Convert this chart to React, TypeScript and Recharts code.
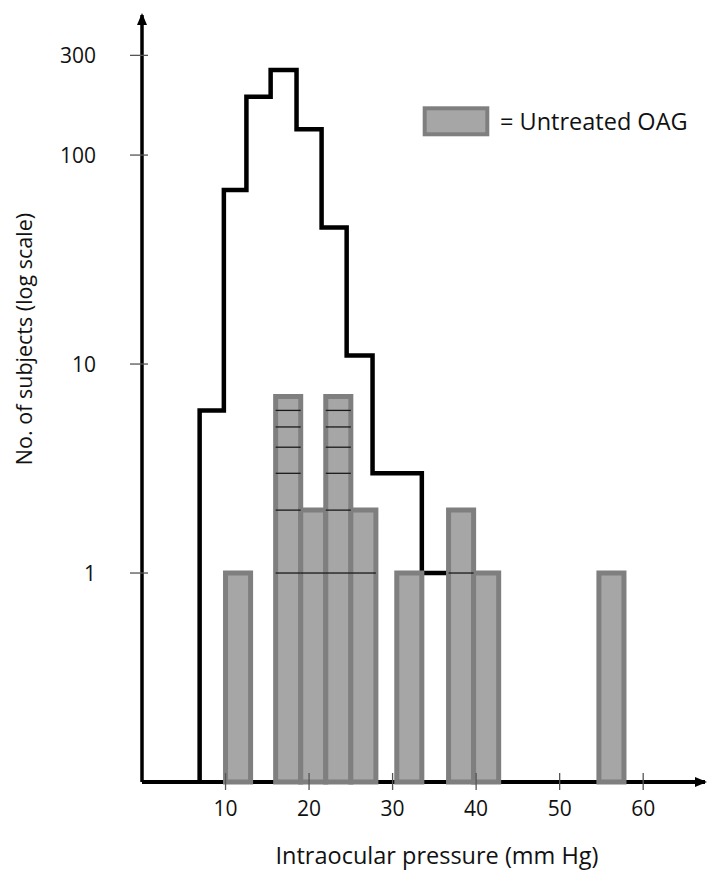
import { ComposedChart, Line, XAxis, YAxis, ReferenceArea, ReferenceLine, Legend, Label } from 'recharts'

// whole population, step histogram (left edge of each step, count)
const popEdges = [6.9, 6.9, 9.8, 12.5, 15.4, 18.5, 21.5, 24.5, 27.6, 33.5, 38]
const popCounts = [0.1, 6, 68, 190, 255, 133, 45, 11, 3, 1, 0.1]

// untreated OAG bars
const oagStart = [10, 16, 19, 22, 25, 30.5, 36.7, 39.7, 54.7]
const oagEnd = [13, 19, 22, 25, 28, 33.5, 39.7, 42.7, 57.7]
const oagCounts = [1, 7, 2, 7, 2, 1, 2, 1, 1]

const xTicks = [10, 20, 30, 40, 50, 60]
const yTicks = [1, 10, 100, 300]

const stepData = popEdges.map((x, i) => ({ x, n: popCounts[i] }))

const bars = oagStart.map((s, i) => ({ x1: s, x2: oagEnd[i], n: oagCounts[i] }))

// one thin line for every whole count below the top of a bar
const stripes = bars.flatMap((b, i) =>
  Array.from({ length: b.n - 1 }, (_, k) => ({ id: `${i}-${k}`, x1: b.x1, x2: b.x2, y: k + 1 }))
)

const FONT = '"Open Sans", "Noto Sans", sans-serif'

const XTick = (props: any) => {
  const { x, y, payload } = props
  return (
    <g>
      <line x1={x} x2={x} y1={y - 9} y2={y + 8} stroke="#555" strokeWidth={1.3} />
      <text x={x} y={y + 34} textAnchor="middle" fontSize={21} fill="#111">
        {payload.value}
      </text>
    </g>
  )
}

const YTick = (props: any) => {
  const { x, y, payload } = props
  return (
    <g>
      <line x1={x - 12} x2={x + 6} y1={y} y2={y} stroke="#555" strokeWidth={1.3} />
      <text x={96} y={y + 7.5} textAnchor="end" fontSize={21} fill="#111">
        {payload.value}
      </text>
    </g>
  )
}

const LegendBox = () => (
  <svg width={285} height={40} style={{ display: 'block' }}>
    <rect x={2.7} y={2.3} width={62.6} height={26} fill="#a6a6a6" stroke="#7f7f7f" strokeWidth={4} />
    <text x={78} y={23.8} fontSize={23.5} fill="#111" fontFamily={FONT}>
      = Untreated OAG
    </text>
  </svg>
)

export default function App() {
  return (
    <div style={{ position: 'absolute', left: 0, top: 0, fontFamily: FONT, background: '#fff' }}>
      <ComposedChart width={707} height={871} data={stepData} margin={{ top: 15, right: 2, bottom: 0, left: 0 }}>
        <defs>
          <marker id="arrow" viewBox="0 0 12 10" refX={10} refY={5} markerWidth={12} markerHeight={10}
            markerUnits="userSpaceOnUse" orient="auto-start-reverse">
            <path d="M0,0 L12,5 L0,10 z" fill="#000" />
          </marker>
        </defs>
        <XAxis
          dataKey="x"
          type="number"
          domain={[0, 67.4]}
          allowDataOverflow
          ticks={xTicks}
          height={89}
          axisLine={{ stroke: '#000', strokeWidth: 4, markerEnd: 'url(#arrow)' }}
          tickLine={false}
          tickSize={0}
          tickMargin={0}
          tick={<XTick />}
        >
          <Label
            content={() => (
              <text x={437} y={864} textAnchor="middle" fontSize={23.5} fill="#111" fontFamily={FONT}>
                Intraocular pressure (mm Hg)
              </text>
            )}
          />
        </XAxis>
        <YAxis
          type="number"
          scale="log"
          domain={[0.1, 468]}
          allowDataOverflow
          ticks={yTicks}
          width={142}
          axisLine={{ stroke: '#000', strokeWidth: 3.5, markerStart: 'url(#arrow)' }}
          tickLine={false}
          tickSize={0}
          tickMargin={0}
          tick={<YTick />}
        >
          <Label
            content={() => (
              <text x={32} y={339} textAnchor="middle" fontSize={21.5} fill="#111" fontFamily={FONT}
                transform="rotate(-90, 32, 339)">
                No. of subjects (log scale)
              </text>
            )}
          />
        </YAxis>
        <Line
          type="stepAfter"
          dataKey="n"
          stroke="#000"
          strokeWidth={4.5}
          dot={false}
          activeDot={false}
          isAnimationActive={false}
          legendType="none"
        />
        {bars.map((b, i) => (
          <ReferenceArea
            key={`bar-${i}`}
            x1={b.x1}
            x2={b.x2}
            y1={0.1}
            y2={b.n}
            fill="#a6a6a6"
            fillOpacity={1}
            stroke="#7f7f7f"
            strokeWidth={5}
            zIndex={600}
          />
        ))}
        {stripes.map((s) => (
          <ReferenceLine
            key={`st-${s.id}`}
            segment={[{ x: s.x1, y: s.y }, { x: s.x2, y: s.y }]}
            stroke="#1a1a1a"
            strokeWidth={1.3}
            zIndex={700}
          />
        ))}
        <Legend
          layout="horizontal"
          verticalAlign="middle"
          align="center"
          wrapperStyle={{ left: 422, top: 106, width: 285 }}
          content={<LegendBox />}
        />
      </ComposedChart>
    </div>
  )
}
